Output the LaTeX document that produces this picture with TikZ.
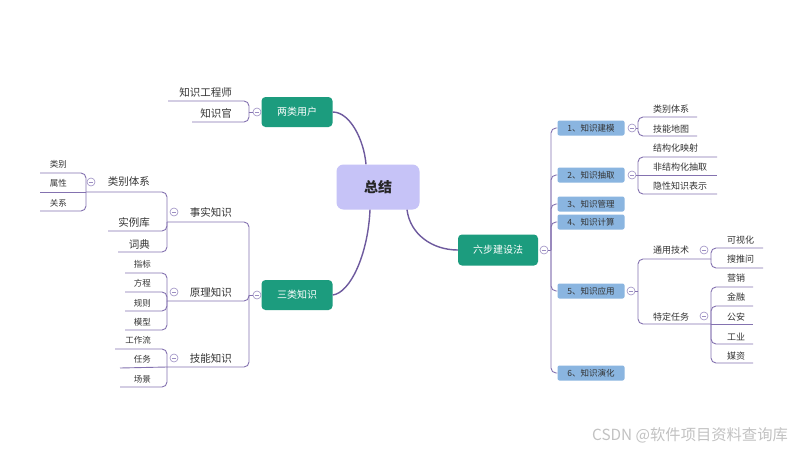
\documentclass[tikz,border=0pt]{standalone}
\usepackage{fontspec}
\setmainfont{Noto Sans CJK SC}
\usetikzlibrary{calc}
\definecolor{linec}{HTML}{8472B0}
\definecolor{mainl}{HTML}{6E5A9E}
\definecolor{foldc}{HTML}{9C8EC2}
\definecolor{tealc}{HTML}{1C9C7E}
\definecolor{sumc}{HTML}{C6C3F7}
\definecolor{stepc}{HTML}{8AB5E0}
\definecolor{txt}{HTML}{333333}
\definecolor{wmc}{HTML}{C2C2C2}
\begin{document}
\begin{tikzpicture}[x=1pt,y=-1pt,
  conn/.style={draw=linec, line width=0.9pt, rounded corners=5pt},
  mainc/.style={draw=mainl, line width=1.4pt},
  tealbox/.style={rectangle, rounded corners=4pt, fill=tealc, text=white, font=\fontsize{10}{12}\selectfont, minimum width=71pt, minimum height=30pt, inner sep=0pt},
  stepbox/.style={rectangle, rounded corners=2pt, fill=stepc, text=txt, font=\fontsize{8.5}{10}\selectfont, minimum width=67pt, minimum height=15pt, inner sep=0pt},
  lbl/.style={text=txt, font=\fontsize{10.5}{12}\selectfont, inner sep=0pt},
  rlbl/.style={text=txt, font=\fontsize{9}{11}\selectfont, inner sep=0pt},
  sml/.style={text=txt, font=\fontsize{8.5}{10}\selectfont, inner sep=0pt},
  fold/.style={circle, draw=foldc, fill=white, line width=0.6pt, minimum size=8pt, inner sep=0pt,
    path picture={\draw[foldc,line width=0.6pt] ([xshift=-2.2pt]path picture bounding box.center) -- ([xshift=2.2pt]path picture bounding box.center);}}
]
\useasboundingbox (0,0) rectangle (800,450);
\fill[white] (0,0) rectangle (800,450);

% ---------- main nodes ----------
\node[fill=sumc, rounded corners=7pt, minimum width=83pt, minimum height=45pt, text=black!85, font=\fontsize{14}{16}\selectfont\bfseries] (sum) at (378,187) {总结};
\node[tealbox] (users) at (297,112) {两类用户};
\node[tealbox] (three) at (297,295) {三类知识};
\node[tealbox, minimum width=80pt, minimum height=31pt] (six) at (498,250) {六步建设法};

\coordinate (sumtop) at ([xshift=-12pt]sum.north);
\coordinate (sumbl) at ([xshift=-8pt]sum.south);
\coordinate (sumbr) at ([xshift=29pt]sum.south);
\draw[mainc] (users.east) .. controls (350,112) and (364,140) .. (sumtop);
\draw[mainc] (three.east) .. controls (350,293) and (368,255) .. (sumbl);
\draw[mainc] (six.west) .. controls (432,250) and (410,234) .. (sumbr);

% ---------- 两类用户 ----------
\node[lbl, anchor=east] (u1) at (232,92) {知识工程师};
\node[lbl, anchor=east] (u2) at (232,113) {知识官};
\coordinate (ju) at (249,112);
\draw[conn] (168,101) -| (ju);
\draw[conn] (192,122) -| (ju);

% ---------- 三类知识 ----------
\coordinate (jt) at (249,295);
\node[lbl, anchor=east] (k1) at (232,212) {事实知识};
\node[lbl, anchor=east] (k2) at (232,292) {原理知识};
\node[lbl, anchor=east] (k3) at (232,358) {技能知识};
\coordinate (jk1) at (167,222);
\coordinate (jk2) at (167,301);
\coordinate (jk3) at (167,367);
\draw[conn] (jk1) -| (jt);
\draw[conn] (jk2) -| (jt);
\draw[conn] (jk3) -| (jt);

% 事实知识 children
\node[lbl, anchor=east] (f1) at (150,182) {类别体系};
\node[lbl, anchor=east] (f2) at (150,222) {实例库};
\node[lbl, anchor=east] (f3) at (150,244) {词典};
\coordinate (jf1) at (86,192);
\draw[conn] (jf1) -| (jk1);
\draw[conn] (108,231) -| (jk1);
\draw[conn] (118,252) -| (jk1);

% 类别体系 children
\node[sml, anchor=east] (c1) at (67,164) {类别};
\node[sml, anchor=east] (c2) at (67,183) {属性};
\node[sml, anchor=east] (c3) at (67,203) {关系};
\draw[conn] (40,173) -| (jf1);
\draw[conn] (40,192) -- (jf1);
\draw[conn] (40,211) -| (jf1);

% 原理知识 children
\node[sml, anchor=east] (p1) at (151,264) {指标};
\node[sml, anchor=east] (p2) at (151,283) {方程};
\node[sml, anchor=east] (p3) at (151,303) {规则};
\node[sml, anchor=east] (p4) at (151,322) {模型};
\draw[conn] (125,273) -| (jk2);
\draw[conn] (125,292) -| (jk2);
\draw[conn] (125,311) -| (jk2);
\draw[conn] (125,330) -| (jk2);

% 技能知识 children
\node[sml, anchor=east] (w1) at (151,340) {工作流};
\node[sml, anchor=east] (w2) at (151,359) {任务};
\node[sml, anchor=east] (w3) at (151,379) {场景};
\draw[conn] (115,349) -| (jk3);
\draw[conn] (120,368) -- (jk3);
\draw[conn] (120,387) -| (jk3);

% ---------- 六步建设法 ----------
\node[stepbox] (s1) at (591,128) {1、知识建模};
\node[stepbox] (s2) at (591,175) {2、知识抽取};
\node[stepbox] (s3) at (591,204) {3、知识管理};
\node[stepbox] (s4) at (591,222) {4、知识计算};
\node[stepbox] (s5) at (591,291) {5、知识应用};
\node[stepbox] (s6) at (591,373) {6、知识演化};
\coordinate (js) at (551,250);
\foreach \s in {s1,s2,s3,s4,s5,s6} { \draw[conn] (js) |- (\s.west); }

% step 1 children
\coordinate (j1) at (638,128);
\node[rlbl, anchor=west] (a1) at (653,109) {类别体系};
\node[rlbl, anchor=west] (a2) at (653,129) {技能地图};
\draw[conn] (j1) |- (697,117);
\draw[conn] (j1) |- (697,136);

% step 2 children
\coordinate (j2) at (638,175);
\node[rlbl, anchor=west] (b1) at (653,148) {结构化映射};
\node[rlbl, anchor=west] (b2) at (653,167) {非结构化抽取};
\node[rlbl, anchor=west] (b3) at (653,186) {隐性知识表示};
\draw[conn] (j2) |- (717,157);
\draw[conn] (j2) -- (717,175);
\draw[conn] (j2) |- (717,194);

% step 5 children
\coordinate (j5) at (638,291);
\node[rlbl, anchor=west] (g1) at (653,250) {通用技术};
\node[rlbl, anchor=west] (g2) at (653,317) {特定任务};
\coordinate (jg1) at (711,259);
\coordinate (jg2) at (711,324);
\draw[conn] (j5) |- (jg1);
\draw[conn] (j5) |- (jg2);

\node[rlbl, anchor=west] (v1) at (727,240) {可视化};
\node[rlbl, anchor=west] (v2) at (727,259) {搜推问};
\draw[conn] (jg1) |- (763,248);
\draw[conn] (jg1) |- (763,268);

\node[rlbl, anchor=west] (t1) at (727,278) {营销};
\node[rlbl, anchor=west] (t2) at (727,297) {金融};
\node[rlbl, anchor=west] (t3) at (727,317) {公安};
\node[rlbl, anchor=west] (t4) at (727,337) {工业};
\node[rlbl, anchor=west] (t5) at (727,356) {媒资};
\draw[conn] (jg2) |- (753,287);
\draw[conn] (jg2) |- (753,306);
\draw[conn] (jg2) -- (753,324);
\draw[conn] (jg2) |- (753,344);
\draw[conn] (jg2) |- (753,363);

% ---------- fold markers ----------
\node[fold] (fu) at (257,112) {};
\node[fold] (ft) at (257,295) {};
\node[fold] (fs) at (544,250) {};
\node[fold] (fk1) at (174,212) {};
\node[fold] (fk2) at (174,292) {};
\node[fold] (fk3) at (174,358) {};
\node[fold] (ff1) at (91,182) {};
\node[fold] (fs1) at (632,128) {};
\node[fold] (fs2) at (632,175) {};
\node[fold] (fs5) at (631,291) {};
\node[fold] (fg1) at (704,250) {};
\node[fold] (fg2) at (704,316) {};
\draw[conn] (ju) -- (fu.west);
\draw[conn] (jt) -- (ft.west);
\draw[conn] (fs.east) -- (js);
\draw[conn] (fs1.east) -- (j1);
\draw[conn] (fs2.east) -- (j2);
\draw[conn] (fs5.east) -- (j5);

% ---------- watermark ----------
\node[text=wmc, font=\fontsize{15.3}{17}\selectfont, anchor=west, inner sep=0pt] (wm) at (592,435) {CSDN @软件项目资料查询库};
\end{tikzpicture}
\end{document}
